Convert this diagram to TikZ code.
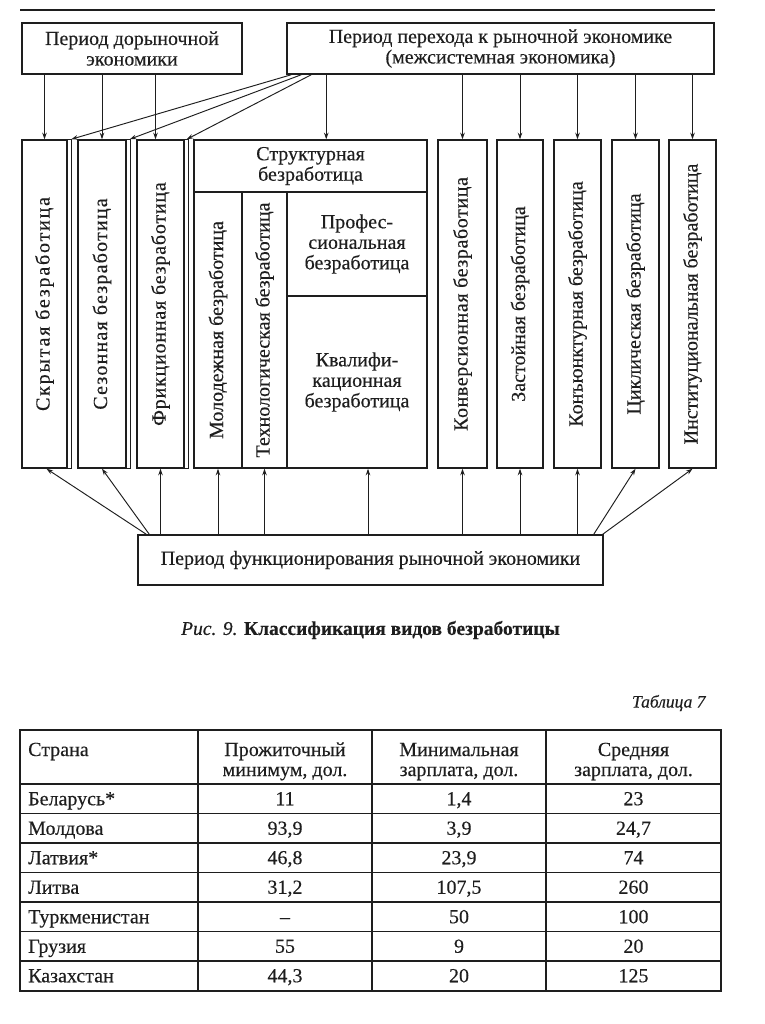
\documentclass[tikz,border=0pt]{standalone}
\usepackage{fontspec}
\setmainfont{Liberation Serif}[FakeBold=0.3]
\usepackage{graphicx}
\usetikzlibrary{arrows.meta,calc,positioning}
\definecolor{ink}{RGB}{30,30,30}

\begin{document}
\begin{tikzpicture}[x=1pt, y=-1pt,
  every node/.style={font=\fontsize{20}{20.5}\selectfont, text=ink},
  box/.style={draw=ink, line width=1.5pt, inner sep=0pt, align=center},
  hbox/.style={box, minimum height=51pt},
  vbox/.style={box, minimum width=#1, minimum height=328pt},
  sbox/.style={box, minimum width=#1},
  strip/.style={draw=ink, line width=1.1pt},
  arr/.style={-{Stealth[length=6.5pt, width=4.5pt]}, draw=ink, line width=0.95pt},
  cell/.style={font=\fontsize{20}{20}\selectfont, inner sep=0pt, align=center, anchor=base},
  rule/.style={draw=ink, line width=2.2pt},
  grid/.style={draw=ink, line width=1.1pt},
  frame/.style={draw=ink, line width=2pt}
]
  \useasboundingbox (0,0) rectangle (764,1024);
  \fill[white] (0,0) rectangle (764,1024);
  \draw[rule] (20,10) -- (715,10);

  % periods
  \node[hbox, minimum width=220pt] (pre) at (132,48.5) {Период дорыночной\\экономики};
  \node[hbox, minimum width=427pt] (trans) at (500.5,48.5) {Период перехода к рыночной экономике\\(межсистемная экономика)};
  \node[box, minimum width=465pt, minimum height=50pt] (market) at (370.5,560) {Период функционирования рыночной экономики};

  % kinds of unemployment
  \node[vbox=45pt] (hidden) at (44.5,304) {\rotatebox{90}{\addfontfeature{LetterSpace=9}Скрытая безработица}};
  \node[vbox=48pt] (seasonal) at (102,304) {\rotatebox{90}{\addfontfeature{LetterSpace=6}Сезонная безработица}};
  \node[vbox=47pt] (friction) at (160.5,304) {\rotatebox{90}{\addfontfeature{LetterSpace=4}Фрикционная безработица}};

  \node[sbox=233pt, minimum height=52pt] (struct) at (310.5,166) {Структурная\\безработица};
  \node[sbox=48pt, minimum height=276pt] (youth) at (218,330) {\rotatebox{90}{Молодежная безработица}};
  \node[sbox=45pt, minimum height=276pt] (tech) at (264.5,330) {\rotatebox{90}{Технологическая безработица}};
  \node[sbox=140pt, minimum height=104pt] (prof) at (357,244) {Профес-\\сиональная\\безработица};
  \node[sbox=140pt, minimum height=172pt] (qual) at (357,382) {Квалифи-\\кационная\\безработица};

  \node[vbox=49pt] (conv) at (462.5,304) {\rotatebox{90}{\addfontfeature{LetterSpace=3}Конверсионная безработица}};
  \node[vbox=46pt] (stag) at (520,304) {\rotatebox{90}{Застойная безработица}};
  \node[vbox=47pt] (conj) at (577.5,304) {\rotatebox{90}{Конъюнктурная безработица}};
  \node[vbox=47pt] (cycl) at (635.5,304) {\rotatebox{90}{Циклическая безработица}};
  \node[vbox=47pt] (inst) at (692.5,304) {\rotatebox{90}{Институциональная безработица}};

  \foreach \n in {hidden,seasonal,friction}
    \draw[strip] (\n.north east) -- ++(3.5,0) -- ([xshift=3.5pt]\n.south east) -- (\n.south east);

  % from the top
  \draw[arr] (pre.south -| hidden.north) -- (hidden.north);
  \draw[arr] (pre.south -| seasonal.north) -- (seasonal.north);
  \draw[arr] ([xshift=-5pt]pre.south -| friction.north) -- ([xshift=-5pt]friction.north);
  \draw[arr] ([xshift=5pt]trans.south west) -- ([xshift=3.5pt]hidden.north east);
  \draw[arr] ([xshift=15pt]trans.south west) -- ([xshift=3pt]seasonal.north east);
  \draw[arr] ([xshift=25pt]trans.south west) -- ([xshift=2pt]friction.north east);
  \draw[arr] ([xshift=40pt]trans.south west) -- ([xshift=40pt]trans.south west |- struct.north);
  \foreach \n in {conv,stag,conj,cycl,inst}
    \draw[arr] (trans.south -| \n.north) -- (\n.north);

  % from the bottom
  \draw[arr] ([xshift=9pt]market.north west) -- ([xshift=2pt]hidden.south);
  \draw[arr] ([xshift=12pt]market.north west) -- (seasonal.south);
  \foreach \n in {friction,youth,tech,conv,stag,conj}
    \draw[arr] (market.north -| \n.south) -- (\n.south);
  \draw[arr] ([xshift=11pt]market.north -| qual.south) -- ([xshift=11pt]qual.south);
  \draw[arr] ([xshift=-10pt]market.north east) -- (cycl.south);
  \draw[arr] ([xshift=-1pt]market.north east) -- (inst.south);

  \node (caption) at (370.5,630) {\fontsize{19.5}{20}\selectfont\textit{Рис. 9.} \textbf{Классификация видов безработицы}};

  % table
  \node[anchor=east, font=\itshape\fontsize{17.5}{18}\selectfont] (tablab) at (709,703) {Таблица 7};
  \draw[frame] (20,730) rectangle (721,990.5);
  \foreach \x in {198,372,546}
    \draw[grid] (\x,730) -- (\x,990.5);
  \foreach \k in {0,...,6}
    \draw[grid] (20,{784+\k*29.5}) -- (721,{784+\k*29.5});

  \node[cell, anchor=base west] (hcountry) at (28,756) {Страна};
  \node[cell] (hsubs) at (285,776) {Прожиточный\\минимум, дол.};
  \node[cell] (hmin) at (459,776) {Минимальная\\зарплата, дол.};
  \node[cell] (havg) at (633.5,776) {Средняя\\зарплата, дол.};

  \foreach \c/\a/\b/\d [count=\i] in {Беларусь*/11/{1,4}/23, Молдова/{93,9}/{3,9}/{24,7},
      Латвия*/{46,8}/{23,9}/74, Литва/{31,2}/{107,5}/260, Туркменистан/–/50/100,
      Грузия/55/9/20, Казахстан/{44,3}/20/125} {
    \node[cell, anchor=base west] (c\i) at (28,{790.5+(\i-0.5)*29.5}) {\c};
    \node[cell] (s\i) at (285,{790.5+(\i-0.5)*29.5}) {\a};
    \node[cell] (m\i) at (459,{790.5+(\i-0.5)*29.5}) {\b};
    \node[cell] (a\i) at (633.5,{790.5+(\i-0.5)*29.5}) {\d};
  }
\end{tikzpicture}
\end{document}
